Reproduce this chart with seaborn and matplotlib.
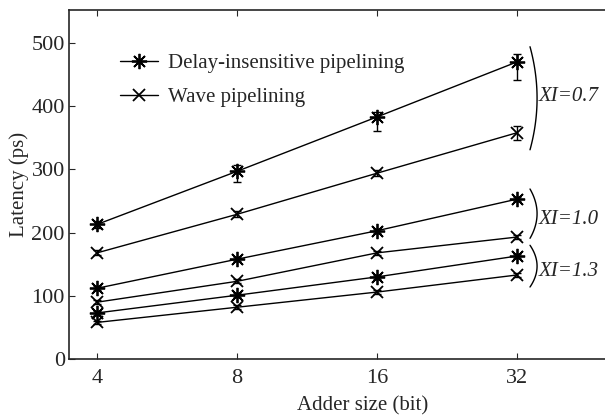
import numpy as np
import pandas as pd
import seaborn as sns
import matplotlib.pyplot as plt
from matplotlib.lines import Line2D

sns.set_style("ticks")
plt.rcParams['font.family'] = ['Liberation Serif', 'DejaVu Serif']

sizes = [4, 8, 16, 32]
size_labels = ['4', '8', '16', '32']

# delay-insensitive pipelining
di_07 = [213, 297, 383, 470]
di_10 = [112, 158, 203, 253]
di_13 = [73, 101, 130, 163]
# wave pipelining
wave_07 = [168, 229, 294, 358]
wave_10 = [90, 123, 168, 193]
wave_13 = [58, 82, 106, 133]

# error bars (lower, upper)
di_07_err = [[5, 17, 22, 29], [5, 10, 8, 13]]
wave_07_err = [[4, 5, 5, 11], [4, 5, 5, 11]]
small_err = [[3, 3, 3, 3], [3, 3, 3, 3]]

xi_labels = ['XI=0.7', 'XI=1.0', 'XI=1.3']
xi_label_y = [415, 220, 139]
xi_brace_y = [(331, 494), (191, 269), (114, 180)]

series = [
    ('Delay-insensitive pipelining', '0.7', di_07, di_07_err),
    ('Wave pipelining', '0.7', wave_07, wave_07_err),
    ('Delay-insensitive pipelining', '1.0', di_10, small_err),
    ('Wave pipelining', '1.0', wave_10, small_err),
    ('Delay-insensitive pipelining', '1.3', di_13, small_err),
    ('Wave pipelining', '1.3', wave_13, small_err),
]

star = (8, 2, 0)
markers = {'Delay-insensitive pipelining': star, 'Wave pipelining': 'x'}
msizes = {'Delay-insensitive pipelining': 11, 'Wave pipelining': 9}

fig = plt.figure(figsize=(6.05, 4.19), dpi=100)
ax = fig.add_axes([0.114, 0.143, 0.972, 0.833])

for method, xi, vals, err in series:
    df = pd.DataFrame({'size': sizes, 'latency': vals})
    sns.lineplot(data=df, x='size', y='latency', ax=ax, color='black',
                 lw=1.0, marker=markers[method], markersize=msizes[method],
                 markeredgewidth=1.3, markeredgecolor='black')
    ax.errorbar(sizes, vals, yerr=err, fmt='none', ecolor='black',
                elinewidth=1.0, capsize=3, capthick=1.0)

ax.set_xscale('log', base=2)
ax.set_xlim(3.48, 64)
ax.set_ylim(0, 552)
ax.set_xticks(sizes)
ax.set_xticklabels(size_labels)
ax.minorticks_off()
ax.set_yticks([0, 100, 200, 300, 400, 500])
ax.tick_params(direction='in', length=4, labelsize=16, top=True)
ax.tick_params(axis='y', pad=3)
ax.tick_params(axis='x', pad=7)
ax.spines['right'].set_visible(False)
for s in ax.spines.values():
    s.set_linewidth(1.2)

ax.set_xlabel('Adder size (bit)', fontsize=15, labelpad=6)
ax.set_ylabel('Latency (ps)', fontsize=15, labelpad=2)

# braces with XI labels
tr = ax.get_yaxis_transform()
for lab, ly, (y0, y1) in zip(xi_labels, xi_label_y, xi_brace_y):
    t = np.linspace(-1, 1, 50)
    yy = (y0 + y1) / 2 + t * (y1 - y0) / 2
    xx = 0.796 - 0.012 * t ** 2
    ax.plot(xx, yy, color='black', lw=1.0, transform=tr, clip_on=False)
    ax.text(0.798, ly, lab, transform=tr, fontsize=15, style='italic',
            va='center', ha='left')

handles = [Line2D([], [], color='black', lw=1.0, marker=markers[m],
                  markersize=msizes[m], markeredgewidth=1.3, label=m)
           for m in ['Delay-insensitive pipelining', 'Wave pipelining']]
ax.legend(handles=handles, loc='upper left', bbox_to_anchor=(0.055, 0.93),
          frameon=False, fontsize=15, handlelength=1.8,
          labelspacing=0.7, handletextpad=0.5)

fig.savefig('out.png', dpi=100)
